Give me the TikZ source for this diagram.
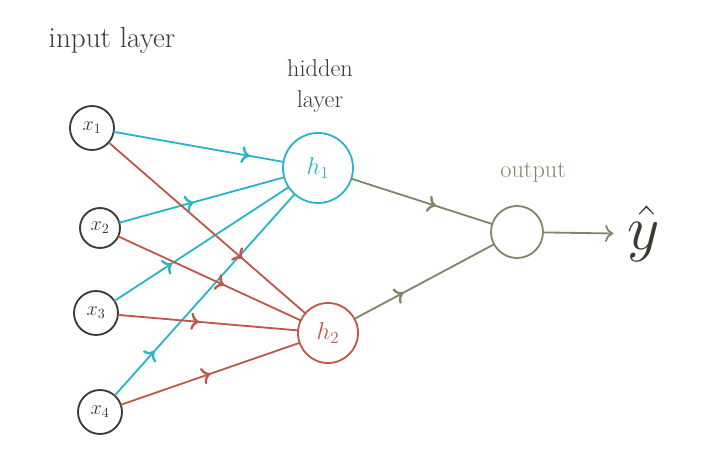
\documentclass[tikz,border=0pt]{standalone}
\usepackage{tikz,tikz-network}
\usetikzlibrary{arrows, calc, decorations.markings}

\definecolor{inkgray}{RGB}{58,58,50}
\definecolor{hidcyan}{RGB}{42,180,200}
\definecolor{hidred}{RGB}{192,88,74}
\definecolor{outolive}{RGB}{124,136,104}

\tikzset{
  midarrow/.style={postaction={decorate},
    decoration={markings,mark=at position #1 with {\arrow[scale=1.3]{>}}}},
  wire/.style={line width=1.3pt},
}

\begin{document}
\begin{tikzpicture}[scale=1,transform shape]
  %\draw (0, 0) grid (18, 11);
  \useasboundingbox (0,0) rectangle (17.975,11.4);

  \SetVertexStyle[FillColor=white,LineWidth=1.3pt,LineColor=inkgray,TextColor=inkgray]
  \Vertex[x=2.3 ,y=8.2  ,size=1.1 ,label={\Large$x_1$}]{x1}
  \Vertex[x=2.5 ,y=5.7  ,size=1.0 ,label={\Large$x_2$}]{x2}
  \Vertex[x=2.4 ,y=3.575,size=1.1 ,label={\Large$x_3$}]{x3}
  \Vertex[x=2.5 ,y=1.1  ,size=1.1 ,label={\Large$x_4$}]{x4}
  \Vertex[x=7.95,y=7.2  ,size=1.75,label={\LARGE$h_1$},fontcolor=hidcyan,style={draw=hidcyan}]{h1}
  \Vertex[x=8.2 ,y=3.075,size=1.5 ,label={\LARGE$h_2$},fontcolor=hidred,style={draw=hidred}]{h2}
  \Vertex[x=12.925,y=5.6,size=1.3 ,NoLabel,style={draw=outolive}]{out}

  % layer names
  \node[font=\huge,text=inkgray] (inputlabel) at (2.8,10.4) {input layer};
  \node[font=\LARGE,text=inkgray,align=center] (hiddenlabel) at (8.0,9.25) {hidden\\layer};
  \node[font=\LARGE,text=outolive] (outputlabel) at (13.33,7.1) {output};
  \node[font=\Huge,scale=1.8,text=inkgray] (yhat) at (16.1,5.55) {$\hat{y}$};

  % into h1
  \draw[wire,hidcyan,midarrow=0.8]  (x1) -- (h1);
  \draw[wire,hidcyan,midarrow=0.45] (x2) -- (h1);
  \draw[wire,hidcyan,midarrow=0.33] (x3) -- (h1);
  \draw[wire,hidcyan,midarrow=0.22] (x4) -- (h1);

  % into h2
  \draw[wire,hidred,midarrow=0.68] (x1) -- (h2);
  \draw[wire,hidred,midarrow=0.58] (x2) -- (h2);
  \draw[wire,hidred,midarrow=0.45] (x3) -- (h2);
  \draw[wire,hidred,midarrow=0.5]  (x4) -- (h2);

  % into output
  \draw[wire,outolive,midarrow=0.6]  (h1) -- (out);
  \draw[wire,outolive,midarrow=0.35] (h2) -- (out);
  \draw[wire,outolive,-{>[scale=1.3]},shorten >=4pt] (out) -- (yhat);

\end{tikzpicture}
\end{document}
